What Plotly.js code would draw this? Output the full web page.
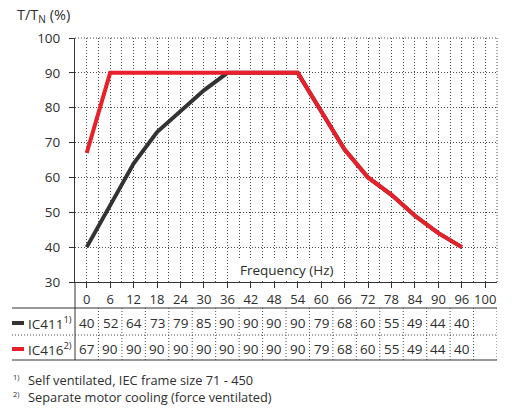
<!DOCTYPE html>
<html>
<head>
<meta charset="utf-8">
<script src="https://cdn.plot.ly/plotly-3.0.1.min.js"></script>
<style>html,body{margin:0;padding:0;background:#fff;}#chart{width:514px;height:410px;}</style>
</head>
<body>
<div id="chart"></div>
<script>
// ---- data ----
const freqLabels = ['0','6','12','18','24','30','36','42','48','54','60','66','72','78','84','90','96','100'];
const ic411 = [40,52,64,73,79,85,90,90,90,90,79,68,60,55,49,44,40];
const ic416 = [67,90,90,90,90,90,90,90,90,90,79,68,60,55,49,44,40];
const seriesNames = ['IC411<sup>1)</sup>', 'IC416<sup>2)</sup>'];
const footnotes = ['Self ventilated, IEC frame size 71 - 450', 'Separate motor cooling (force ventilated)'];
const yTicks = [30,40,50,60,70,80,90,100];

// ---- layout helpers ----
const L = 75, R = 17, T = 38, B = 128, W = 514, H = 410;
const PW = W - L - R, PH = H - T - B;
const px = x => (x - L) / PW;
const py = y => (H - B - y) / PH;

const txt = '#2e2e2e';
const gridCol = '#4a4a4a';
const red = '#e8202a';
const dark = '#333333';
const font = 'Open Sans, Noto Sans, sans-serif';

const idx = freqLabels.map((_, i) => i);
const half = idx.map(i => i + 0.5);

const traces = [
  {x: ic411.map((_, i) => i), y: ic411, type: 'scatter', mode: 'lines',
   line: {color: dark, width: 4}, hoverinfo: 'skip', cliponaxis: false},
  {x: ic416.map((_, i) => i), y: ic416, type: 'scatter', mode: 'lines',
   line: {color: red, width: 4}, hoverinfo: 'skip', cliponaxis: false}
];

const shapes = [];
const annotations = [];

// right and top dotted edges
shapes.push({type: 'line', xref: 'paper', yref: 'paper', x0: 1, x1: 1, y0: 0, y1: 1,
  line: {color: gridCol, width: 1, dash: '1px,2px'}});
shapes.push({type: 'line', xref: 'paper', yref: 'paper', x0: 0, x1: 1, y0: 1, y1: 1,
  line: {color: gridCol, width: 1, dash: '1px,2px'}});

// table
const tTop = py(308), tMid = py(335), tBot = py(360);
const rowY = [py(323), py(349)];
shapes.push({type: 'line', xref: 'paper', yref: 'paper', x0: px(12), x1: 1, y0: tTop, y1: tTop, line: {color: '#333', width: 1}});
shapes.push({type: 'line', xref: 'paper', yref: 'paper', x0: px(12), x1: 1, y0: tBot, y1: tBot, line: {color: '#333', width: 1}});
shapes.push({type: 'line', xref: 'paper', yref: 'paper', x0: px(12), x1: 1, y0: tMid, y1: tMid, line: {color: gridCol, width: 1, dash: '1px,2px'}});
shapes.push({type: 'line', xref: 'paper', yref: 'paper', x0: 0, x1: 0, y0: 0, y1: tBot, line: {color: '#333', width: 1}});
half.forEach(h => {
  shapes.push({type: 'line', xref: 'x', yref: 'paper', x0: h, x1: h, y0: tTop, y1: tBot,
    line: {color: gridCol, width: 1, dash: '1px,2px'}});
});
// legend samples
[dark, red].forEach((c, k) => {
  shapes.push({type: 'line', xref: 'paper', yref: 'paper', x0: px(12), x1: px(24), y0: rowY[k], y1: rowY[k],
    line: {color: c, width: 4}});
  annotations.push({xref: 'paper', yref: 'paper', x: px(26), y: rowY[k], xanchor: 'left', yanchor: 'middle',
    text: seriesNames[k], showarrow: false, font: {family: font, size: 13.5, color: txt}});
});
[ic411, ic416].forEach((arr, k) => {
  arr.forEach((v, i) => {
    annotations.push({xref: 'x', yref: 'paper', x: i, y: rowY[k], xanchor: 'center', yanchor: 'middle',
      text: String(v), showarrow: false, font: {family: font, size: 13.5, color: txt}});
  });
});

// axis title inside plot
annotations.push({xref: 'paper', yref: 'paper', x: 0.5, y: py(270), xanchor: 'center', yanchor: 'middle',
  text: 'Frequency (Hz)', showarrow: false, bgcolor: '#ffffff', borderpad: 1,
  font: {family: font, size: 13.5, color: txt}});

// footnotes
footnotes.forEach((f, k) => {
  const yy = py(380 + k * 17);
  annotations.push({xref: 'paper', yref: 'paper', x: px(11), y: yy + 0.012, xanchor: 'left', yanchor: 'middle',
    text: (k + 1) + ')', showarrow: false, font: {family: font, size: 7.5, color: txt}});
  annotations.push({xref: 'paper', yref: 'paper', x: px(26), y: yy, xanchor: 'left', yanchor: 'middle',
    text: f, showarrow: false, font: {family: font, size: 12.8, color: txt}});
});

const layout = {
  width: W, height: H,
  margin: {l: L, r: R, t: T, b: B, pad: 0},
  paper_bgcolor: '#fff', plot_bgcolor: '#fff',
  showlegend: false,
  title: {text: 'T/T<sub>N</sub> (%)', xref: 'container', yref: 'container',
    x: 17 / W, xanchor: 'left', y: 1 - 15 / H, yanchor: 'middle',
    font: {family: font, size: 14.5, color: txt}},
  xaxis: {
    range: [-0.5, freqLabels.length - 0.5], fixedrange: true,
    tickmode: 'array', tickvals: idx, ticktext: freqLabels,
    ticks: 'outside', ticklen: 5, tickcolor: '#333', tickwidth: 1,
    showline: true, linecolor: '#333', linewidth: 1,
    showgrid: true, gridcolor: gridCol, gridwidth: 1, griddash: '1px,2px',
    minor: {tickmode: 'array', tickvals: half.slice(0, -1), showgrid: true, gridcolor: gridCol, gridwidth: 1, griddash: '1px,2px', ticks: ''},
    zeroline: false,
    tickfont: {family: font, size: 13, color: txt}
  },
  yaxis: {
    range: [30, 100], fixedrange: true,
    tickmode: 'array', tickvals: yTicks, ticktext: yTicks.map(String),
    ticks: 'outside', ticklen: 5, tickcolor: '#333', tickwidth: 1, ticklabelstandoff: 6,
    showline: true, linecolor: '#333', linewidth: 1,
    showgrid: true, gridcolor: gridCol, gridwidth: 1, griddash: '1px,2px',
    zeroline: false,
    tickfont: {family: font, size: 13.5, color: txt}
  },
  shapes: shapes,
  annotations: annotations
};

Plotly.newPlot('chart', traces, layout, {staticPlot: true, displayModeBar: false});
</script>
</body>
</html>
